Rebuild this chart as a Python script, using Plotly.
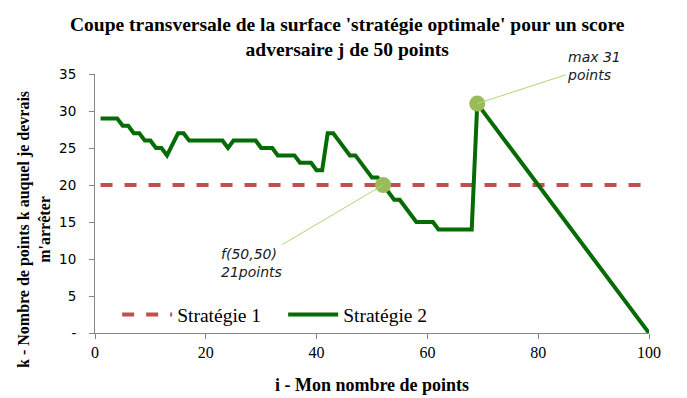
import plotly.graph_objects as go

# Strategy 2 (green line)
s2_x = [1, 2, 3, 4, 5, 6, 7, 8, 9, 10, 11, 12, 13, 14, 15, 16, 17, 18, 19, 20,
        21, 22, 23, 24, 25, 26, 27, 28, 29, 30, 31, 32, 33, 34, 35, 36, 37, 38, 39, 40,
        41, 42, 43, 44, 45, 46, 47, 48, 49, 50, 51, 52, 53, 54, 55, 56, 57, 58, 59, 60,
        61, 62, 63, 64, 65, 66, 67, 68, 69, 100]
s2_y = [29, 29, 29, 29, 28, 28, 27, 27, 26, 26, 25, 25, 24, 25.5, 27, 27, 26, 26, 26, 26,
        26, 26, 26, 25, 26, 26, 26, 26, 26, 25, 25, 25, 24, 24, 24, 24, 23, 23, 23, 22,
        22, 27, 27, 26, 25, 24, 24, 23, 22, 21, 21, 20, 19, 18, 18, 17, 16, 15, 15, 15,
        15, 14, 14, 14, 14, 14, 14, 14, 31, 0]

# Strategy 1 (red dashed line)
s1_x = [1, 100]
s1_y = [20, 20]

# Highlighted points
hl_x = [52, 69]
hl_y = [20, 31]
hl_text = ["<i>f(50,50)<br>21points</i>", "<i>max 31<br>points</i>"]

x_ticks = [0, 20, 40, 60, 80, 100]
y_ticks = [0, 5, 10, 15, 20, 25, 30, 35]
y_ticktext = ["-", "5", "10", "15", "20", "25", "30", "35"]

title_text = "<b>Coupe transversale de la surface 'stratégie optimale' pour un score<br>adversaire j de 50 points</b>"
y_title_text = "<b>k - Nombre de points k auquel je devrais<br>m'arrêter</b>"
x_title_text = "<b>i - Mon nombre de points</b>"

fig = go.Figure()
fig.add_trace(go.Scatter(x=s1_x, y=s1_y, mode="lines", name="Stratégie 1",
                         line=dict(color="#C0504D", width=4, dash="dash")))
fig.add_trace(go.Scatter(x=s2_x, y=s2_y, mode="lines", name="Stratégie 2",
                         line=dict(color="#056B05", width=4)))
fig.add_trace(go.Scatter(x=hl_x, y=hl_y, mode="markers", showlegend=False,
                         marker=dict(color="#9BBB59", size=16)))

offsets = [(-132, 78), (117, -38)]
for xv, yv, t, (ax, ay) in zip(hl_x, hl_y, hl_text, offsets):
    fig.add_annotation(x=xv, y=yv, text=t, showarrow=True, arrowhead=0,
                       arrowwidth=1, arrowcolor="#A8D977", ax=ax, ay=ay,
                       align="left",
                       font=dict(family="DejaVu Sans", size=14, color="#1a1a1a"))

# chart title
fig.add_annotation(text=title_text, xref="paper", yref="paper", x=0.4558, y=1.235,
                   xanchor="center", yanchor="top", showarrow=False, borderpad=0,
                   font=dict(family="Liberation Serif", size=19.5, color="black"))
# y axis title
fig.add_annotation(text=y_title_text, xref="paper", yref="paper", x=-0.110, y=0.398,
                   xanchor="center", yanchor="middle", showarrow=False, textangle=-90,
                   font=dict(family="Liberation Serif", size=16, color="black"))

fig.update_layout(
    width=679, height=390,
    margin=dict(l=87, r=38, t=66, b=65),
    paper_bgcolor="white", plot_bgcolor="white",
    legend=dict(orientation="h", x=0.04, y=0.07, xanchor="left", yanchor="middle",
                font=dict(family="Liberation Serif", size=19.5, color="black"),
                bgcolor="rgba(0,0,0,0)", itemwidth=50, entrywidth=101),
    showlegend=True,
)
fig.update_xaxes(range=[0, 100], tickvals=x_ticks, showgrid=False, zeroline=False,
                 showline=True, linecolor="#868686", linewidth=1, automargin=False,
                 ticks="outside", ticklen=5, tickcolor="#868686",
                 tickfont=dict(family="Liberation Serif", size=16, color="black"),
                 title=dict(text=x_title_text, standoff=18,
                            font=dict(family="Liberation Serif", size=18, color="black")))
fig.update_yaxes(range=[0, 35], tickvals=y_ticks, ticktext=y_ticktext, showgrid=False,
                 zeroline=False, showline=True, linecolor="#868686", linewidth=1,
                 automargin=False, ticklabelstandoff=10,
                 ticks="outside", ticklen=5, tickcolor="#868686",
                 tickfont=dict(family="DejaVu Sans", size=13.5, color="black"))

fig.write_html("out.html")
